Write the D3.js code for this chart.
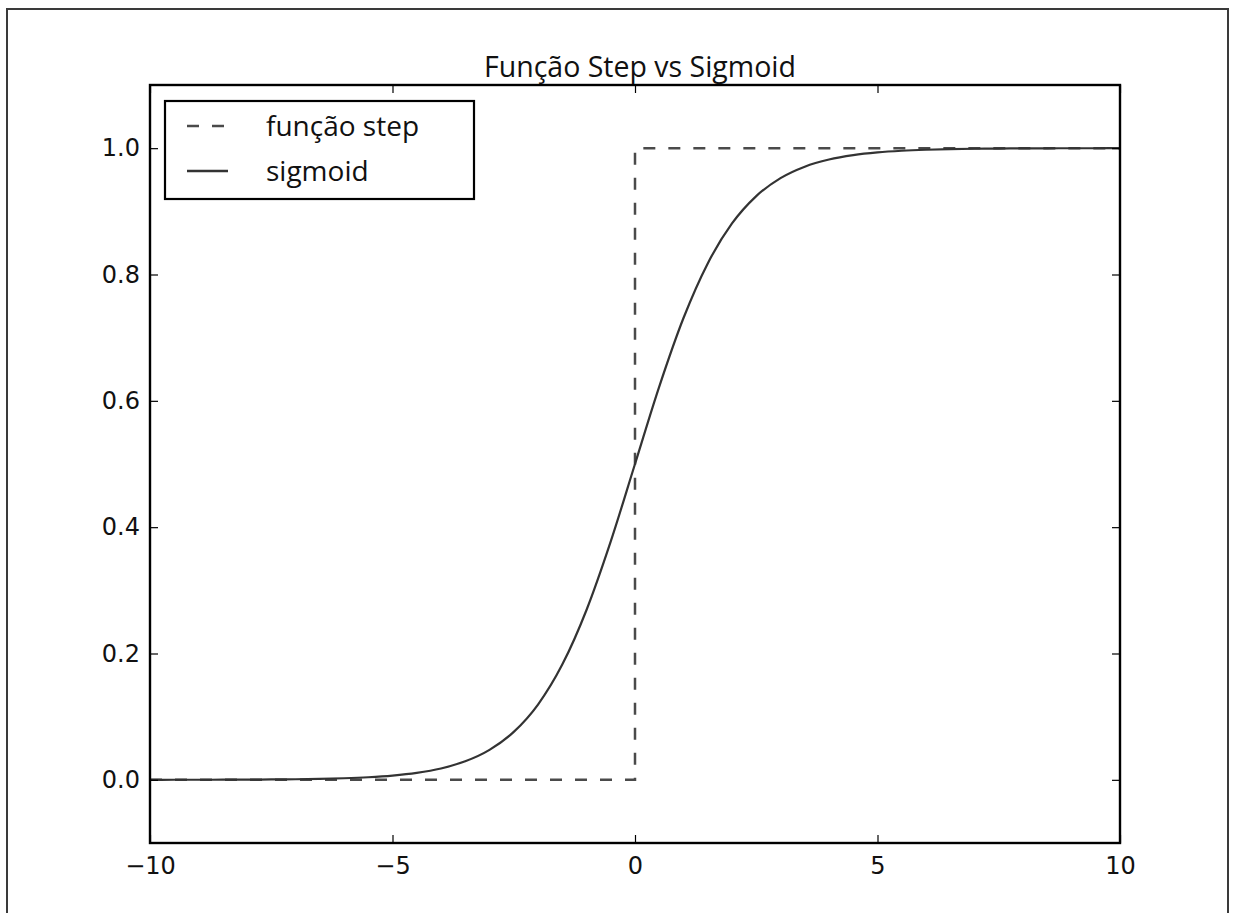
<!DOCTYPE html>
<html>
<head>
<meta charset="utf-8">
<script src="https://cdn.jsdelivr.net/npm/d3@7"></script>
<style>
  html, body { margin: 0; padding: 0; background: #fff; }
  svg { display: block; }
</style>
</head>
<body>
<svg id="chart" width="1233" height="913"></svg>
<script>
// ---- data ----
const titleText = "Função Step vs Sigmoid";
const seriesNames = ["função step", "sigmoid"];
const stepX = [-10, 0, 0, 10];
const stepY = [0, 0, 1, 1];
const sigmoidX = [-10, -9.5, -9, -8.5, -8, -7.5, -7, -6.5, -6, -5.5, -5, -4.5, -4, -3.5, -3, -2.5, -2, -1.5, -1, -0.5, 0,
                  0.5, 1, 1.5, 2, 2.5, 3, 3.5, 4, 4.5, 5, 5.5, 6, 6.5, 7, 7.5, 8, 8.5, 9, 9.5, 10];
const sigmoidY = [0.0000, 0.0001, 0.0001, 0.0002, 0.0003, 0.0006, 0.0009, 0.0015, 0.0025, 0.0041, 0.0067, 0.0110, 0.0180, 0.0293, 0.0474, 0.0759, 0.1192, 0.1824, 0.2689, 0.3775, 0.5000,
                  0.6225, 0.7311, 0.8176, 0.8808, 0.9241, 0.9526, 0.9707, 0.9820, 0.9890, 0.9933, 0.9959, 0.9975, 0.9985, 0.9991, 0.9994, 0.9997, 0.9998, 0.9999, 0.9999, 1.0000];
const xTicks = [-10, -5, 0, 5, 10];
const yTicks = [0.0, 0.2, 0.4, 0.6, 0.8, 1.0];
const xDomain = [-10, 10];
const yDomain = [-0.1, 1.1];

// ---- layout ----
const svg = d3.select("#chart");
const plot = { left: 150, right: 1120, top: 85, bottom: 843 };

// outer figure frame
svg.append("rect")
  .attr("x", 7).attr("y", 9).attr("width", 1221).attr("height", 1000)
  .attr("fill", "none").attr("stroke", "#3a3a3a").attr("stroke-width", 2);

const x = d3.scaleLinear().domain(xDomain).range([plot.left, plot.right]);
const y = d3.scaleLinear().domain(yDomain).range([plot.bottom, plot.top]);

const tickFont = "'DejaVu Sans', sans-serif";
const textFont = "'Open Sans', sans-serif";
const fmtX = d => (d < 0 ? "\u2212" + Math.abs(d) : String(d));
const fmtY = d3.format(".1f");

// curves (clipped)
svg.append("clipPath").attr("id", "clip").append("rect")
  .attr("x", plot.left).attr("y", plot.top)
  .attr("width", plot.right - plot.left).attr("height", plot.bottom - plot.top);

const line = d3.line().x(d => x(d[0])).y(d => y(d[1]));
const sigLine = d3.line().x(d => x(d[0])).y(d => y(d[1])).curve(d3.curveMonotoneX);

const g = svg.append("g").attr("clip-path", "url(#clip)");
g.append("path")
  .datum(stepX.map((v, i) => [v, stepY[i]]))
  .attr("d", line)
  .attr("fill", "none").attr("stroke", "#4a4a4a").attr("stroke-width", 2.5)
  .attr("stroke-dasharray", "12,13");
g.append("path")
  .datum(sigmoidX.map((v, i) => [v, sigmoidY[i]]))
  .attr("d", sigLine)
  .attr("fill", "none").attr("stroke", "#333").attr("stroke-width", 2.2);

// axes (ticks inward on all sides)
const tickLen = 8;
const axB = svg.append("g").attr("transform", `translate(0,${plot.bottom})`)
  .call(d3.axisBottom(x).tickValues(xTicks).tickFormat(fmtX).tickSizeInner(-tickLen).tickSizeOuter(0).tickPadding(14));
const axT = svg.append("g").attr("transform", `translate(0,${plot.top})`)
  .call(d3.axisTop(x).tickValues(xTicks).tickFormat("").tickSizeInner(-tickLen).tickSizeOuter(0));
const axL = svg.append("g").attr("transform", `translate(${plot.left},0)`)
  .call(d3.axisLeft(y).tickValues(yTicks).tickFormat(fmtY).tickSizeInner(-tickLen).tickSizeOuter(0).tickPadding(10));
const axR = svg.append("g").attr("transform", `translate(${plot.right},0)`)
  .call(d3.axisRight(y).tickValues(yTicks).tickFormat("").tickSizeInner(-tickLen).tickSizeOuter(0));

[axB, axT, axL, axR].forEach(a => {
  a.select(".domain").remove();
  a.selectAll(".tick line").attr("stroke", "#000").attr("stroke-width", 1.2);
  a.selectAll("text").attr("font-family", tickFont).attr("font-size", 24).attr("fill", "#111");
});

// frame
svg.append("rect")
  .attr("x", plot.left).attr("y", plot.top)
  .attr("width", plot.right - plot.left).attr("height", plot.bottom - plot.top)
  .attr("fill", "none").attr("stroke", "#000").attr("stroke-width", 2.4);

// title
svg.append("text")
  .attr("x", (plot.left + plot.right) / 2 + 5).attr("y", 77)
  .attr("text-anchor", "middle")
  .attr("font-family", textFont).attr("font-size", 28.5).attr("fill", "#111")
  .text(titleText);

// legend
const leg = svg.append("g");
leg.append("rect")
  .attr("x", 165).attr("y", 101).attr("width", 309).attr("height", 98)
  .attr("fill", "#fff").attr("stroke", "#000").attr("stroke-width", 2.2);
const legRows = [
  { name: seriesNames[0], dash: "12,13", color: "#4a4a4a", cy: 126 },
  { name: seriesNames[1], dash: null, color: "#333", cy: 171 }
];
legRows.forEach(r => {
  leg.append("line")
    .attr("x1", 187).attr("x2", 228).attr("y1", r.cy).attr("y2", r.cy)
    .attr("stroke", r.color).attr("stroke-width", 2.5)
    .attr("stroke-dasharray", r.dash);
  leg.append("text")
    .attr("x", 266).attr("y", r.cy + 10)
    .attr("font-family", textFont).attr("font-size", 28).attr("fill", "#111")
    .text(r.name);
});
</script>
</body>
</html>
